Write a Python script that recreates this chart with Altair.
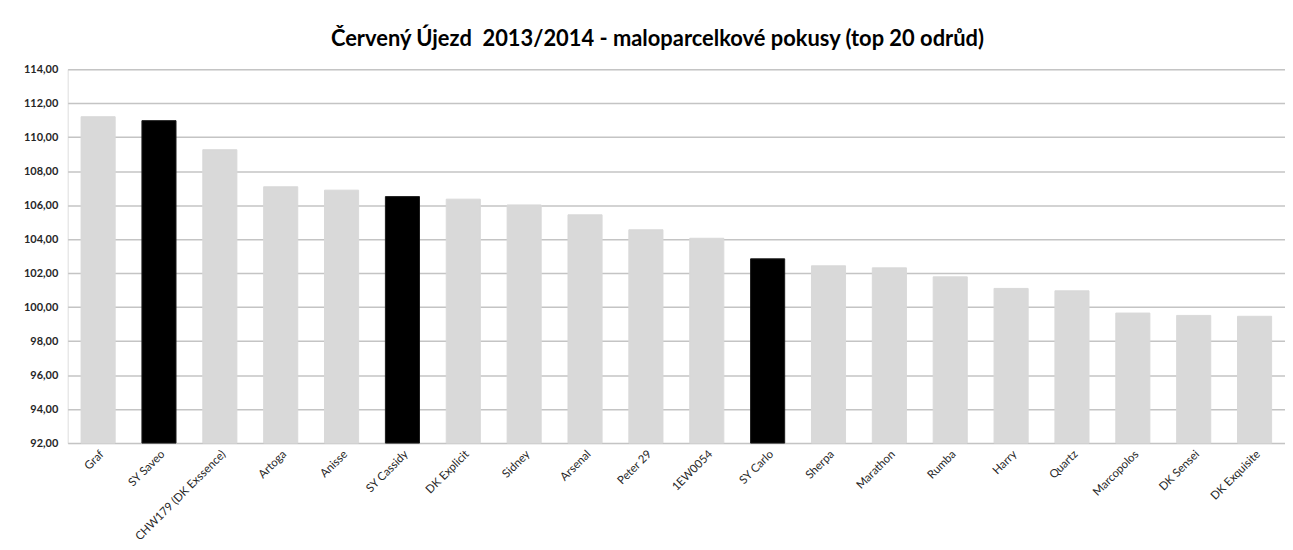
import altair as alt
import pandas as pd

varieties = ["Graf", "SY Saveo", "CHW179 (DK Exssence)", "Artoga", "Anisse",
             "SY Cassidy", "DK Explicit", "Sidney", "Arsenal", "Peter 29",
             "1EW0054", "SY Carlo", "Sherpa", "Marathon", "Rumba",
             "Harry", "Quartz", "Marcopolos", "DK Sensei", "DK Exquisite"]
yields = [111.20, 110.97, 109.26, 107.08, 106.88,
          106.50, 106.35, 106.01, 105.43, 104.55,
          104.05, 102.84, 102.43, 102.31, 101.78,
          101.10, 100.96, 99.65, 99.51, 99.46]
group = ["other", "SY", "other", "other", "other",
         "SY", "other", "other", "other", "other",
         "other", "SY", "other", "other", "other",
         "other", "other", "other", "other", "other"]
y_ticks = [92, 94, 96, 98, 100, 102, 104, 106, 108, 110, 112, 114]

df = pd.DataFrame({"odruda": varieties, "vynos": yields, "skupina": group})

font = "Lato"

bars = alt.Chart(df).mark_bar(strokeWidth=1).encode(
    x=alt.X("odruda:N", sort=varieties, title=None,
            scale=alt.Scale(paddingInner=0.44, paddingOuter=0.22),
            axis=alt.Axis(labelAngle=-45, labelFontSize=11.5, labelColor="#262626",
                          labelFont=font, ticks=False, domain=False,
                          labelPadding=5, grid=False)),
    y=alt.Y("vynos:Q", title=None,
            scale=alt.Scale(domain=[92, 114], zero=False, nice=False, clamp=True),
            axis=alt.Axis(values=y_ticks,
                          labelExpr="replace(format(datum.value, '.2f'), '.', ',')",
                          labelFont=font, labelFontSize=11, labelFontWeight="bold",
                          labelColor="#262626", ticks=False, domain=False,
                          labelPadding=10, gridColor="#c4c4c4", gridWidth=1.5)),
    y2=alt.datum(92),
    color=alt.Color("skupina:N", legend=None,
                    scale=alt.Scale(domain=["other", "SY"], range=["#d9d9d9", "#000000"])),
    stroke=alt.Stroke("skupina:N", legend=None,
                      scale=alt.Scale(domain=["other", "SY"], range=["#d9d9d9", "#1a1a1a"])),
)

chart = bars.properties(
    width=1224,
    height=376,
    title=alt.TitleParams(
        "Červený Újezd\u00a0 2013/2014 - maloparcelkové pokusy (top 20 odrůd)",
        font=font, fontSize=22, fontWeight="bold", color="#000000",
        anchor="middle", dx=-19, offset=12),
    autosize=alt.AutoSizeParams(type="none"),
    padding={"left": 60, "top": 60, "right": 0, "bottom": 102},
).configure_view(stroke=None).configure(background="white")

chart.save("out.html", embed_options={"renderer": "svg", "actions": False})
